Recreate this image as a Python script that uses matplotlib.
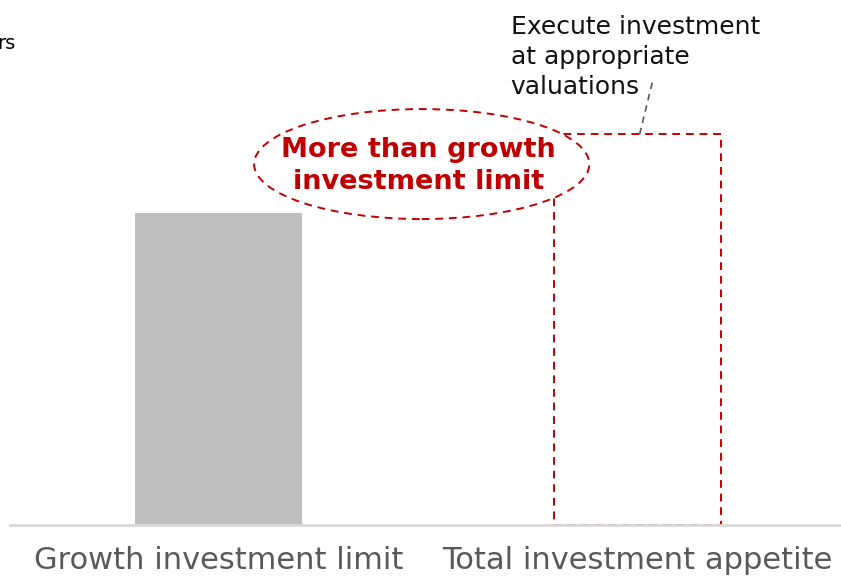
import matplotlib
matplotlib.use("Agg")
import matplotlib.pyplot as plt
from matplotlib.patches import Ellipse

# Chart data (relative units)
categories = ["Growth investment limit", "Total investment appetite"]
growth_limit = [100]
total_appetite = [125]

RED = "#c00000"

fig = plt.figure(figsize=(8.41, 5.76), dpi=100)
ax = fig.add_axes([10 / 841, 51 / 576, 831 / 841, 525 / 576])

# solid gray bar for the limit
ax.bar([0], growth_limit, width=0.4, color="#bfbfbf", zorder=2)
# dashed outline for the appetite
ax.bar([1], total_appetite, width=0.4, facecolor="none", edgecolor=RED,
       linestyle=(0, (4, 3)), linewidth=1.4, zorder=2)

ax.set_xlim(-0.4976, 1.4857)
ax.set_ylim(0, 168)

# ellipse with callout text
ell = Ellipse((0.485, 115.5), 0.80, 35.2, facecolor="white", edgecolor=RED,
              linestyle=(0, (4, 3)), linewidth=1.4, zorder=4)
ax.add_patch(ell)
ax.text(0.478, 115.0, "More than growth\ninvestment limit", color=RED,
        fontsize=19.5, fontweight="bold", ha="center", va="center",
        linespacing=1.3, zorder=5)

# note on the right with a dashed leader line
ax.text(0.697, 149.8, "Execute investment\nat appropriate\nvaluations", fontsize=18,
        ha="left", va="center", linespacing=1.33, color="#111111")
ax.plot([1.005, 1.036], [125, 142], color="#595959", linestyle=(0, (4, 3)),
        linewidth=1.2)

# clipped text at the top left (cut off in the original too)
fig.text(-0.003, 0.925, "rs", fontsize=14, ha="left", va="center")

for s in ["top", "right", "left"]:
    ax.spines[s].set_visible(False)
ax.spines["bottom"].set_color("#d9d9d9")
ax.spines["bottom"].set_linewidth(2)
ax.set_yticks([])
ax.set_xticks([0, 1])
ax.set_xticklabels(categories, fontsize=22, color="#595959")
ax.tick_params(axis="x", length=0, pad=15)

fig.savefig("out.png", dpi=100)
